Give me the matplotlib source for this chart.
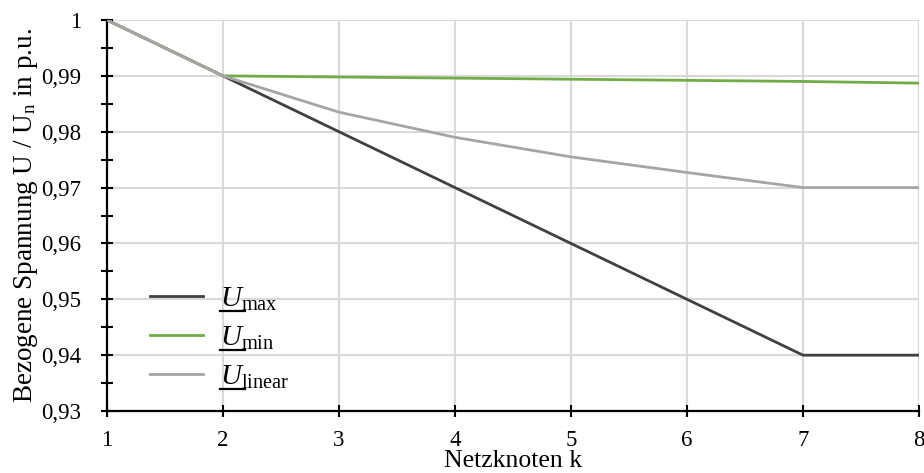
import matplotlib
matplotlib.use("Agg")
import matplotlib.pyplot as plt
from matplotlib.ticker import FuncFormatter, MultipleLocator
from matplotlib.lines import Line2D

# ---- data ----
nodes = [1, 2, 3, 4, 5, 6, 7, 8]
u_max = [1.0, 0.99, 0.98, 0.97, 0.96, 0.95, 0.94, 0.94]
u_min = [1.0, 0.99, 0.9898, 0.9896, 0.9894, 0.9892, 0.9890, 0.9887]
u_linear = [1.0, 0.99, 0.9835, 0.979, 0.9755, 0.9727, 0.970, 0.970]
series_names = ["max", "min", "linear"]
x_label = "Netzknoten k"
y_label = "Bezogene Spannung U / U$_\\mathregular{n}$ in p.u."

plt.rcParams["font.family"] = ["Liberation Serif", "DejaVu Serif"]
plt.rcParams["mathtext.fontset"] = "custom"
plt.rcParams["mathtext.rm"] = "Liberation Serif"
plt.rcParams["mathtext.it"] = "Liberation Serif:italic"
plt.rcParams["mathtext.bf"] = "Liberation Serif:bold"

fig = plt.figure(figsize=(9.24, 4.73), dpi=100)
ax = fig.add_axes([0.1158, 0.131, 0.8788, 0.8267])

colors = ["#404040", "#70ad47", "#a5a5a5"]
for vals, c, name in zip([u_max, u_min, u_linear], colors, series_names):
    ax.plot(nodes, vals, color=c, lw=2.0, label=r"$U_{\mathrm{%s}}$" % name, zorder=3)

ax.set_xlim(1, 8)
ax.set_ylim(0.93, 1.0)
ax.xaxis.set_major_locator(MultipleLocator(1))
ax.yaxis.set_major_locator(MultipleLocator(0.01))
ax.yaxis.set_minor_locator(MultipleLocator(0.005))

def fmt(v, pos):
    s = f"{v:.2f}".rstrip("0").rstrip(".")
    return s.replace(".", ",")
ax.yaxis.set_major_formatter(FuncFormatter(fmt))

ax.grid(True, which="major", color="#d9d9d9", lw=1.5, zorder=0)
for s in ["top", "right"]:
    ax.spines[s].set_visible(False)
for s in ["left", "bottom"]:
    ax.spines[s].set_linewidth(1.6)
    ax.spines[s].set_color("black")
ax.tick_params(axis="both", which="major", direction="inout", length=8, width=1.5,
               labelsize=16.5)
ax.tick_params(axis="y", which="minor", direction="inout", length=8, width=1.5)
ax.tick_params(axis="x", which="major", pad=10)
ax.tick_params(axis="y", which="major", pad=14.5)

ax.set_xlabel(x_label, fontsize=18.5, labelpad=-1)
ax.set_ylabel(y_label, fontsize=19.5, labelpad=0.5)

leg = ax.legend(loc="lower left", bbox_to_anchor=(0.028, 0.0), frameon=False,
                fontsize=21, handlelength=1.8, handletextpad=0.6, labelspacing=0.4,
                borderaxespad=0.3)

# underline the U in each legend label
fig.canvas.draw()
renderer = fig.canvas.get_renderer()
for t in leg.get_texts():
    bb = t.get_window_extent(renderer)
    tmp = fig.text(0, 0, r"$U$", fontsize=t.get_fontsize())
    wU = tmp.get_window_extent(renderer).width
    tmp.remove()
    y = bb.y0 + 2
    line = Line2D([bb.x0, bb.x0 + wU], [y, y], transform=None, color="black", lw=1.6)
    fig.lines.append(line)
    line.set_figure(fig)

fig.savefig("out.png", dpi=100)
